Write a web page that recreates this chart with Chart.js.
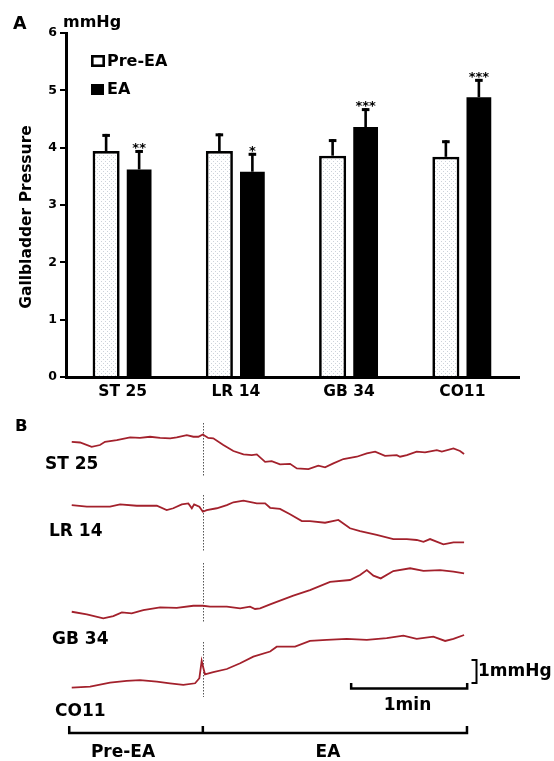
<!DOCTYPE html>
<html>
<head>
<meta charset="utf-8">
<script src="https://cdn.jsdelivr.net/npm/chart.js@4.4.1/dist/chart.umd.min.js"></script>
<style>
  body { margin: 0; background: #fff; }
  #wrap { position: relative; width: 554px; height: 761px; }
  #chartA { position: absolute; left: 0; top: 0; }
  #chartB { position: absolute; left: 0; top: 405px; }
</style>
</head>
<body>
<div id="wrap">
  <canvas id="chartA" width="554" height="405"></canvas>
  <canvas id="chartB" width="554" height="356"></canvas>
</div>
<script>
// Panel A: gallbladder pressure (mmHg), mean + SEM
const acupoints = ['ST 25', 'LR 14', 'GB 34', 'CO11'];
const preEA = [3.94, 3.94, 3.86, 3.84];
const preEAErr = [0.30, 0.31, 0.29, 0.29];
const duringEA = [3.62, 3.58, 4.36, 4.88];
const duringEAErr = [0.34, 0.33, 0.33, 0.32];
const significance = ['**', '*', '***', '***'];

// Panel B: pressure traces, time in s, change in mmHg from start of trace
const traceNames = ['ST 25', 'LR 14', 'GB 34', 'CO11'];
const st25Time = [0, 4.3, 10.3, 14.6, 17.2, 23.3, 30.2, 35.3, 40.5, 45.7, 50.9, 54.3, 59.5, 62.9, 65.5, 67.8, 70.6, 73.2, 78.4, 83.6, 88.8, 93.1, 95.7, 100.0, 103.4, 107.7, 112.9, 116.4, 122.4, 127.5, 131.0, 135.3, 140.5, 147.4, 152.6, 156.9, 162.0, 168.1, 169.8, 173.3, 178.4, 182.7, 188.8, 191.4, 197.4, 200.8, 202.9];
const st25Pressure = [0, -0.03, -0.22, -0.14, 0, 0.07, 0.19, 0.17, 0.22, 0.17, 0.15, 0.19, 0.29, 0.22, 0.22, 0.32, 0.17, 0.15, -0.14, -0.40, -0.55, -0.58, -0.55, -0.87, -0.84, -0.98, -0.96, -1.16, -1.19, -1.04, -1.11, -0.94, -0.75, -0.65, -0.50, -0.43, -0.61, -0.58, -0.65, -0.58, -0.43, -0.46, -0.36, -0.43, -0.29, -0.40, -0.53];
const lr14Time = [0, 7.8, 19.8, 25.0, 33.6, 44.0, 49.1, 52.5, 56.9, 60.3, 62.1, 63.3, 66.0, 67.8, 69.8, 75.0, 80.2, 83.6, 88.8, 95.7, 100.0, 102.6, 107.7, 112.9, 119.0, 123.2, 131.0, 137.9, 143.9, 149.1, 157.7, 166.3, 173.3, 178.4, 181.9, 185.3, 192.2, 197.4, 202.9];
const lr14Pressure = [0, -0.07, -0.07, 0.03, -0.03, -0.03, -0.22, -0.14, 0.03, 0.07, -0.14, 0.03, -0.07, -0.29, -0.22, -0.14, 0, 0.12, 0.19, 0.07, 0.07, -0.12, -0.17, -0.40, -0.70, -0.70, -0.77, -0.65, -1.01, -1.13, -1.30, -1.48, -1.48, -1.52, -1.60, -1.48, -1.71, -1.62, -1.62];
const gb34Time = [0, 7.8, 16.3, 21.5, 25.9, 31.0, 37.0, 45.7, 54.3, 62.9, 67.8, 71.5, 80.2, 87.1, 92.2, 94.8, 97.4, 102.6, 106.0, 114.6, 123.2, 133.6, 143.9, 149.1, 152.6, 156.0, 159.8, 166.3, 175.0, 181.9, 190.5, 197.4, 202.9];
const gb34Pressure = [0, -0.11, -0.29, -0.19, -0.03, -0.07, 0.07, 0.19, 0.17, 0.26, 0.26, 0.22, 0.22, 0.15, 0.22, 0.12, 0.15, 0.32, 0.43, 0.70, 0.94, 1.30, 1.38, 1.60, 1.81, 1.57, 1.45, 1.77, 1.89, 1.78, 1.81, 1.74, 1.67];
const co11Time = [0, 9.5, 19.8, 28.4, 35.3, 44.0, 50.8, 57.7, 63.8, 66.0, 67.2, 68.1, 68.9, 73.2, 80.2, 87.1, 93.9, 102.6, 106.0, 115.5, 123.2, 131.9, 142.2, 152.6, 162.9, 171.5, 178.4, 187.0, 193.1, 197.4, 202.9];
const co11Pressure = [0, 0.04, 0.22, 0.29, 0.33, 0.26, 0.19, 0.12, 0.19, 0.41, 1.16, 0.84, 0.58, 0.67, 0.81, 1.06, 1.35, 1.57, 1.78, 1.78, 2.03, 2.08, 2.12, 2.08, 2.15, 2.26, 2.12, 2.22, 2.03, 2.12, 2.29];
const eaOnset = 67.8;      // s
const phaseBounds = [-1.3, 67.8, 204.4];
const scaleBarStart = 144.5;

const FAMILY = "'DejaVu Sans', sans-serif";
const bold = size => 'bold ' + size + 'px ' + FAMILY;
Chart.defaults.font.family = FAMILY;
Chart.defaults.color = '#000';

// stipple fill for the Pre-EA bars
function stipple() {
    const c = document.createElement('canvas');
    c.width = 4; c.height = 4;
    const g = c.getContext('2d');
    g.fillStyle = '#fff';
    g.fillRect(0, 0, 4, 4);
    g.fillStyle = '#cdd3da';
    g.fillRect(1, 1, 1, 1);
    g.fillRect(3, 3, 1, 1);
    return g.createPattern(c, 'repeat');
}

const panelA = {
    id: 'panelA',
    afterDatasetsDraw(chart) {
        const ctx = chart.ctx, y = chart.scales.y;
        ctx.save();
        ctx.fillStyle = '#000';
        chart.data.datasets.forEach((ds, di) => {
            chart.getDatasetMeta(di).data.forEach((bar, i) => {
                const top = y.getPixelForValue(ds.data[i] + ds.errors[i]);
                ctx.fillRect(bar.x - 1.3, top, 2.6, bar.y - top);
                ctx.fillRect(bar.x - 3.8, top, 7.6, 3);
                if (ds.stars) {
                    ctx.font = bold(13);
                    ctx.textAlign = 'center';
                    ctx.textBaseline = 'alphabetic';
                    ctx.fillText(ds.stars[i], bar.x, top + 2);
                }
            });
        });
        ctx.restore();
    },
    afterDraw(chart) {
        const ctx = chart.ctx;
        ctx.save();
        ctx.fillStyle = '#000';
        ctx.textAlign = 'left';
        ctx.textBaseline = 'alphabetic';
        ctx.font = bold(17.5);
        ctx.fillText('A', 13, 28.5);
        ctx.font = bold(16);
        ctx.fillText('mmHg', 63, 27);
        // legend
        ctx.lineWidth = 2.6;
        ctx.strokeStyle = '#000';
        ctx.strokeRect(92.3, 56.3, 11.4, 9.4);
        ctx.fillRect(91, 84, 13, 11);
        ctx.textBaseline = 'middle';
        ctx.fillText('Pre-EA', 107, 61.5);
        ctx.fillText('EA', 107, 90);
        // axis title
        ctx.translate(26.5, 217);
        ctx.rotate(-Math.PI / 2);
        ctx.textAlign = 'center';
        ctx.font = bold(15.5);
        ctx.fillText('Gallbladder Pressure', 0, 0);
        ctx.restore();
    }
};

new Chart(document.getElementById('chartA'), {
    type: 'bar',
    data: {
        labels: acupoints,
        datasets: [{
            label: 'Pre-EA',
            data: preEA,
            errors: preEAErr,
            backgroundColor: stipple(),
            borderColor: '#000',
            borderWidth: { top: 2.7, left: 2.7, right: 2.7, bottom: 0 },
            borderSkipped: false,
            barPercentage: 0.82
        }, {
            label: 'EA',
            data: duringEA,
            errors: duringEAErr,
            stars: significance,
            backgroundColor: '#000',
            borderWidth: 0,
            barPercentage: 0.75
        }]
    },
    options: {
        responsive: false,
        animation: false,
        categoryPercentage: 0.583,
        layout: { padding: { left: 0, top: 33, right: 35, bottom: 0 } },
        plugins: { legend: { display: false }, tooltip: { enabled: false } },
        scales: {
            x: {
                grid: { display: false, drawTicks: false },
                border: { color: '#000', width: 3 },
                ticks: { font: { size: 15.5, weight: 'bold' }, padding: 6 },
                afterFit: s => { s.height = 28; }
            },
            y: {
                min: 0, max: 6,
                ticks: { stepSize: 1, font: { size: 12.5, weight: 'bold' }, padding: 3 },
                grid: { drawOnChartArea: false, drawTicks: true, tickLength: 6, color: '#000', lineWidth: 2 },
                border: { color: '#000', width: 3 },
                afterFit: s => { s.width = 66; }
            }
        }
    },
    plugins: [panelA]
});

// Panel B layout (mmHg above canvas bottom for each trace start)
const traceOffsets = [13.88, 11.13, 6.49, 3.19];
const markerSpans = [[18, 72], [90, 147], [158, 218], [237, 292]];
const labelPos = [[45, 60], [49, 127], [52, 235], [55, 307]];

const traces = [
    [st25Time, st25Pressure],
    [lr14Time, lr14Pressure],
    [gb34Time, gb34Pressure],
    [co11Time, co11Pressure]
];

const panelB = {
    id: 'panelB',
    beforeDatasetsDraw(chart) {
        const ctx = chart.ctx, x = chart.scales.x;
        const px = Math.round(x.getPixelForValue(eaOnset)) + 0.5;
        ctx.save();
        ctx.strokeStyle = '#555';
        ctx.lineWidth = 1;
        ctx.setLineDash([1.5, 1.5]);
        markerSpans.forEach(([a, b]) => {
            ctx.beginPath();
            ctx.moveTo(px, a);
            ctx.lineTo(px, b);
            ctx.stroke();
        });
        ctx.restore();
    },
    afterDraw(chart) {
        const ctx = chart.ctx, x = chart.scales.x, y = chart.scales.y;
        ctx.save();
        ctx.fillStyle = '#000';
        ctx.strokeStyle = '#000';
        ctx.font = bold(16.5);
        ctx.textBaseline = 'alphabetic';
        ctx.fillText('B', 15, 26);

        ctx.font = bold(17);
        ctx.textBaseline = 'middle';
        traceNames.forEach((n, i) => ctx.fillText(n, labelPos[i][0], labelPos[i][1]));

        // Pre-EA / EA timeline
        const p = phaseBounds.map(v => x.getPixelForValue(v));
        ctx.lineWidth = 2.5;
        ctx.beginPath();
        ctx.moveTo(p[0], 321); ctx.lineTo(p[0], 328);
        ctx.lineTo(p[2], 328); ctx.lineTo(p[2], 321);
        ctx.moveTo(p[1], 328); ctx.lineTo(p[1], 321);
        ctx.stroke();
        ctx.textAlign = 'center';
        ctx.fillText('Pre-EA', 123, 347.5);
        ctx.fillText('EA', 328, 347.5);

        // 1 min scale bar
        const s0 = x.getPixelForValue(scaleBarStart), s1 = x.getPixelForValue(scaleBarStart + 60);
        ctx.beginPath();
        ctx.moveTo(s0, 278); ctx.lineTo(s0, 283.5);
        ctx.lineTo(s1, 283.5); ctx.lineTo(s1, 278);
        ctx.stroke();
        ctx.fillText('1min', 407.5, 301);

        // 1 mmHg bracket
        const b0 = y.getPixelForValue(3.39), b1 = y.getPixelForValue(4.39);
        ctx.lineWidth = 2;
        ctx.beginPath();
        ctx.moveTo(471.5, b1); ctx.lineTo(476.5, b1);
        ctx.lineTo(476.5, b0); ctx.lineTo(471.5, b0);
        ctx.stroke();
        ctx.textAlign = 'left';
        ctx.fillText('1mmHg', 478, (b0 + b1) / 2);
        ctx.restore();
    }
};

new Chart(document.getElementById('chartB'), {
    type: 'line',
    data: {
        datasets: traces.map(([t, p], i) => ({
            label: traceNames[i],
            data: t.map((v, k) => ({ x: v, y: p[k] + traceOffsets[i] })),
            borderColor: '#a3212c',
            borderWidth: 1.8,
            pointRadius: 0,
            tension: 0
        }))
    },
    options: {
        responsive: false,
        animation: false,
        layout: { padding: 0 },
        plugins: { legend: { display: false }, tooltip: { enabled: false } },
        scales: {
            x: { type: 'linear', min: -37.1, max: 249.4, display: false },
            y: { type: 'linear', min: 0, max: 15.48, display: false }
        }
    },
    plugins: [panelB]
});
</script>
</body>
</html>
